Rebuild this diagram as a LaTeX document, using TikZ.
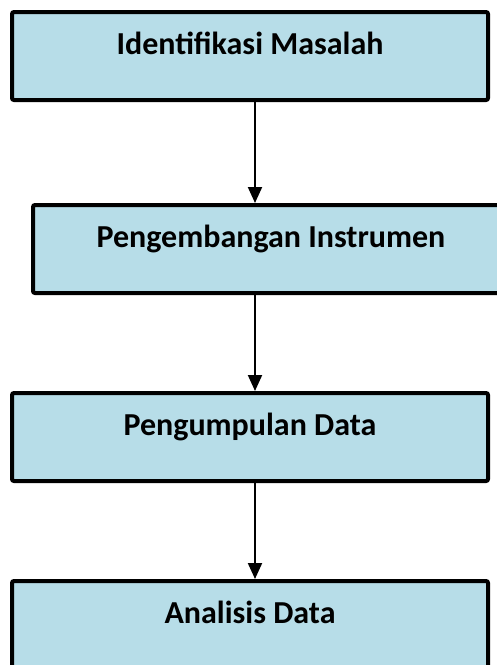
\documentclass[tikz,border=0pt]{standalone}
\usepackage{fontspec}
\setmainfont{Carlito}
\usetikzlibrary{arrows.meta}
\definecolor{stageblue}{HTML}{B7DDE8}
\tikzstyle{stage} = [rectangle, rounded corners=2pt, minimum width=476pt, text height=42pt, text depth=46pt, inner sep=0pt, line width=4pt, draw=black, fill=stageblue, font=\fontsize{32}{38}\selectfont\bfseries]
\tikzstyle{arrow} = [line width=2pt, -{Triangle[length=16pt, width=14pt]}]

\begin{document}
\begin{tikzpicture}[x=1pt, y=1pt, node distance=188pt]
\useasboundingbox (0,0) rectangle (497,-665);

\node (masalah) [stage] at (250,-56) {Identifikasi Masalah};

\node (instrumen) [stage, below of=masalah, xshift=21pt, yshift=-5pt] {Pengembangan Instrumen};

\node (pengumpulan) [stage, below of=instrumen, xshift=-21pt] {Pengumpulan Data};

\node (analisis) [stage, below of=pengumpulan] {Analisis Data};

\coordinate (spine) at ([xshift=5pt]masalah.south);

\draw [arrow] (masalah.south -| spine) -- (instrumen.north -| spine);
\draw [arrow] (instrumen.south -| spine) -- (pengumpulan.north -| spine);
\draw [arrow] (pengumpulan.south -| spine) -- (analisis.north -| spine);

\end{tikzpicture}
\end{document}
